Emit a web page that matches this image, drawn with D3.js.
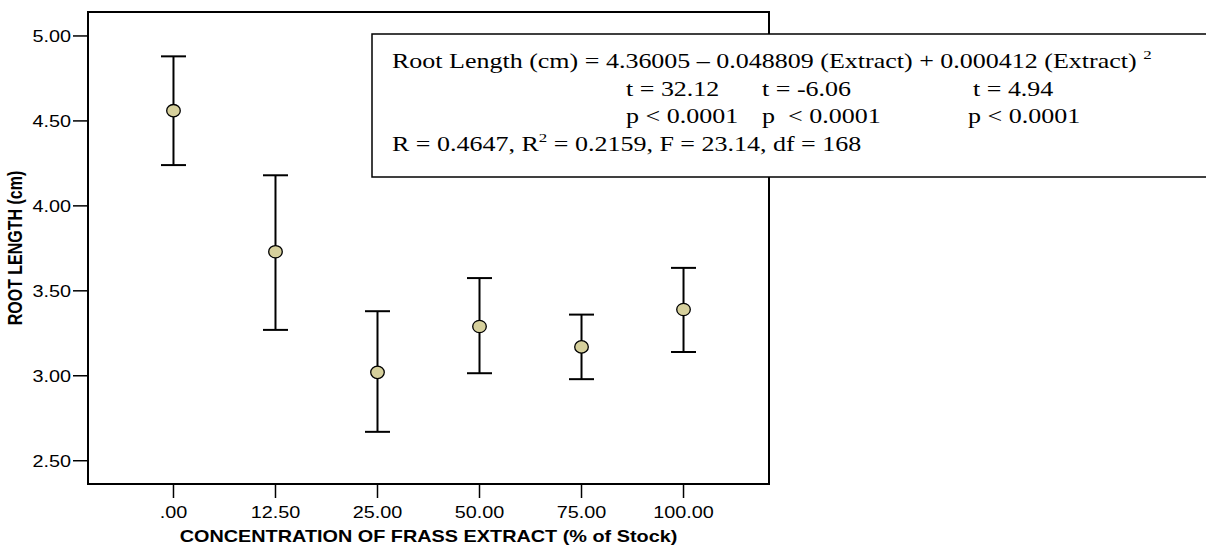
<!DOCTYPE html>
<html>
<head>
<meta charset="utf-8">
<script src="https://cdn.jsdelivr.net/npm/d3@7"></script>
<style>
  body { margin: 0; background: #fff; }
  .sans { font-family: Arial, "Liberation Sans", sans-serif; }
  .serif { font-family: "Times New Roman", "Liberation Serif", serif; }
</style>
</head>
<body>
<svg class="chart" width="1206" height="546"></svg>
<script>
// ROOT LENGTH vs FRASS EXTRACT - mean with error bars

// categories on the x axis
var concLabels = [".00", "12.50", "25.00", "50.00", "75.00", "100.00"];
// mean root length (cm)
var means = [4.56, 3.73, 3.02, 3.29, 3.17, 3.39];
// error bar ends
var upper = [4.88, 4.18, 3.38, 3.575, 3.36, 3.635];
var lower = [4.24, 3.27, 2.67, 3.015, 2.98, 3.14];
// y tick values
var yTicks = [2.50, 3.00, 3.50, 4.00, 4.50, 5.00];

// regression box text
var eqLine = "Root Length (cm) = 4.36005 \u2013 0.048809 (Extract) + 0.000412 (Extract) ";
var tLabels = ["t = 32.12", "t = -6.06", "t = 4.94"];
var pLabels = ["p < 0.0001", "p  < 0.0001", "p < 0.0001"];
var fitStats = ["R = 0.4647, R", " = 0.2159, F = 23.14, df = 168"];

// the original figure is stretched sideways, so text is too
var stretch = 1.24;
var boxStretch = 1.3;

var plotLeft = 88, plotRight = 769, plotTop = 12, plotBottom = 484;

var canvas = d3.select(".chart");

var x = d3.scalePoint()
    .domain(concLabels)
    .range([plotLeft, plotRight])
    .padding(0.838);

var y = d3.scaleLinear()
    .domain([2.363, 5.141])
    .range([plotBottom, plotTop]);

var data = concLabels.map(function (c, i) {
    return { conc: c, mean: means[i], hi: upper[i], lo: lower[i] };
});

// frame
canvas.append("rect")
    .attr("x", plotLeft)
    .attr("y", plotTop)
    .attr("width", plotRight - plotLeft)
    .attr("height", plotBottom - plotTop)
    .attr("fill", "none")
    .attr("stroke", "#000")
    .attr("stroke-width", 2);

// y axis ticks + labels
var yAxisGroup = canvas.append("g");
yAxisGroup.selectAll("line")
    .data(yTicks)
    .enter().append("line")
    .attr("x1", plotLeft - 15)
    .attr("x2", plotLeft)
    .attr("y1", function (d) { return y(d); })
    .attr("y2", function (d) { return y(d); })
    .attr("stroke", "#000")
    .attr("stroke-width", 1.5);

yAxisGroup.selectAll("text")
    .data(yTicks)
    .enter().append("text")
    .attr("class", "sans")
    .attr("transform", function (d) { return "translate(" + (plotLeft - 17) + "," + (y(d) + 6) + ") scale(" + stretch + ",1)"; })
    .attr("text-anchor", "end")
    .style("font-size", "16px")
    .text(function (d) { return d3.format(".2f")(d); });

// x axis ticks + labels
var xAxisGroup = canvas.append("g");
xAxisGroup.selectAll("line")
    .data(concLabels)
    .enter().append("line")
    .attr("x1", function (d) { return x(d); })
    .attr("x2", function (d) { return x(d); })
    .attr("y1", plotBottom)
    .attr("y2", plotBottom + 14)
    .attr("stroke", "#000")
    .attr("stroke-width", 1.5);

xAxisGroup.selectAll("text")
    .data(concLabels)
    .enter().append("text")
    .attr("class", "sans")
    .attr("transform", function (d) { return "translate(" + x(d) + ",518) scale(" + stretch + ",1)"; })
    .attr("text-anchor", "middle")
    .style("font-size", "16px")
    .text(function (d) { return d; });

// axis titles
canvas.append("text")
    .attr("class", "sans")
    .attr("transform", "translate(" + ((plotLeft + plotRight) / 2) + ",542) scale(" + stretch + ",1)")
    .attr("text-anchor", "middle")
    .style("font-size", "16px")
    .style("font-weight", "bold")
    .text("CONCENTRATION OF FRASS EXTRACT (% of Stock)");

canvas.append("text")
    .attr("class", "sans")
    .attr("transform", "translate(22," + ((plotTop + plotBottom) / 2) + ") scale(" + stretch + ",1) rotate(-90)")
    .attr("text-anchor", "middle")
    .style("font-size", "16px")
    .style("font-weight", "bold")
    .text("ROOT LENGTH (cm)");

// error bars
var bars = canvas.append("g").selectAll("g")
    .data(data)
    .enter().append("g");

bars.append("line")
    .attr("x1", function (d) { return x(d.conc); })
    .attr("x2", function (d) { return x(d.conc); })
    .attr("y1", function (d) { return y(d.hi); })
    .attr("y2", function (d) { return y(d.lo); })
    .attr("stroke", "#000")
    .attr("stroke-width", 2);

bars.append("line")
    .attr("x1", function (d) { return x(d.conc) - 12.5; })
    .attr("x2", function (d) { return x(d.conc) + 12.5; })
    .attr("y1", function (d) { return y(d.hi); })
    .attr("y2", function (d) { return y(d.hi); })
    .attr("stroke", "#000")
    .attr("stroke-width", 2);

bars.append("line")
    .attr("x1", function (d) { return x(d.conc) - 12.5; })
    .attr("x2", function (d) { return x(d.conc) + 12.5; })
    .attr("y1", function (d) { return y(d.lo); })
    .attr("y2", function (d) { return y(d.lo); })
    .attr("stroke", "#000")
    .attr("stroke-width", 2);

bars.append("ellipse")
    .attr("cx", function (d) { return x(d.conc); })
    .attr("cy", function (d) { return y(d.mean); })
    .attr("rx", 6.8)
    .attr("ry", 6.2)
    .attr("fill", "#d6d09c")
    .attr("stroke", "#000")
    .attr("stroke-width", 1.3);

// regression box
var box = canvas.append("g");
box.append("rect")
    .attr("x", 372)
    .attr("y", 34)
    .attr("width", 860)
    .attr("height", 143)
    .attr("fill", "#fff")
    .attr("stroke", "#000")
    .attr("stroke-width", 1.5);

var serifSize = "20px";

var eq = box.append("text")
    .attr("class", "serif")
    .attr("transform", "translate(392,68) scale(" + boxStretch + ",1)")
    .style("font-size", serifSize)
    .text(eqLine);
eq.append("tspan")
    .attr("dy", -9)
    .style("font-size", "13px")
    .text("2");

var colX = [626, 762, 973];
var colXp = [626, 762, 968];

box.selectAll("text.tval")
    .data(tLabels)
    .enter().append("text")
    .attr("class", "serif tval")
    .attr("transform", function (d, i) { return "translate(" + colX[i] + ",96) scale(" + boxStretch + ",1)"; })
    .style("font-size", serifSize)
    .style("white-space", "pre")
    .text(function (d) { return d; });

box.selectAll("text.pval")
    .data(pLabels)
    .enter().append("text")
    .attr("class", "serif pval")
    .attr("transform", function (d, i) { return "translate(" + colXp[i] + ",123) scale(" + boxStretch + ",1)"; })
    .style("font-size", serifSize)
    .style("white-space", "pre")
    .text(function (d) { return d; });

var stats = box.append("text")
    .attr("class", "serif")
    .attr("transform", "translate(392,151) scale(" + boxStretch + ",1)")
    .style("font-size", serifSize)
    .style("white-space", "pre");
stats.append("tspan").text(fitStats[0]);
stats.append("tspan")
    .attr("dy", -9)
    .style("font-size", "13px")
    .text("2");
stats.append("tspan")
    .attr("dy", 9)
    .text(fitStats[1]);
</script>
</body>
</html>
